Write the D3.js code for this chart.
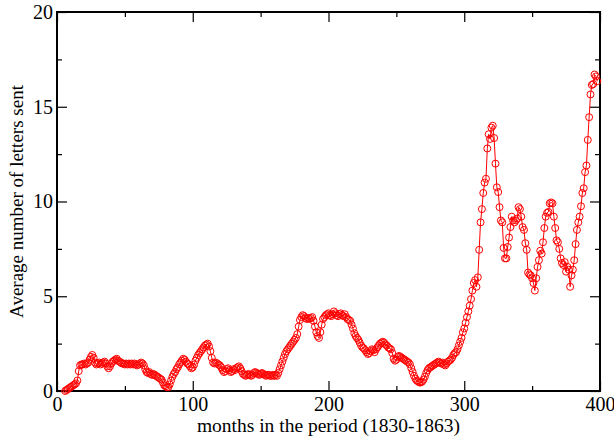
<!DOCTYPE html>
<html>
<head>
<meta charset="utf-8">
<script src="https://cdn.jsdelivr.net/npm/d3@7"></script>
<style>
  body { margin: 0; background: #fff; }
  svg { display: block; }
  text { font-family: "Liberation Serif", "Times New Roman", serif; fill: #000; }
</style>
</head>
<body>
<div id="vis"></div>
<script>
// first month with data, one value per month after that
var firstMonth = 6;

var letters = [
  0.00, 0.05, 0.10, 0.15, 0.20, 0.25, 0.30, 0.35, 0.40, 0.55,
  1.05, 1.35, 1.40, 1.40, 1.45, 1.40, 1.45, 1.50, 1.65, 1.80,
  1.90, 1.75, 1.50, 1.40, 1.45, 1.50, 1.40, 1.45, 1.50, 1.55,
  1.45, 1.30, 1.20, 1.30, 1.45, 1.55, 1.60, 1.65, 1.70, 1.60,
  1.55, 1.50, 1.45, 1.45, 1.40, 1.45, 1.40, 1.45, 1.40, 1.45,
  1.40, 1.45, 1.40, 1.35, 1.40, 1.45, 1.50, 1.45, 1.35, 1.15,
  1.00, 0.95, 1.00, 0.90, 0.85, 0.90, 0.85, 0.80, 0.75, 0.70,
  0.65, 0.60, 0.45, 0.30, 0.25, 0.20, 0.20, 0.35, 0.55, 0.75,
  0.90, 1.00, 1.15, 1.25, 1.40, 1.50, 1.60, 1.70, 1.65, 1.55,
  1.45, 1.40, 1.30, 1.20, 1.25, 1.40, 1.60, 1.75, 1.90, 2.00,
  2.10, 2.20, 2.30, 2.40, 2.45, 2.50, 2.35, 2.10, 1.75, 1.50,
  1.45, 1.50, 1.45, 1.40, 1.35, 1.25, 1.10, 1.00, 1.05, 1.15,
  1.20, 1.10, 1.00, 1.05, 1.15, 1.10, 1.20, 1.25, 1.30, 1.20,
  1.05, 0.90, 0.85, 0.80, 0.85, 0.90, 0.85, 0.80, 0.85, 0.95,
  1.00, 0.95, 0.90, 0.85, 0.90, 0.95, 0.90, 0.85, 0.80, 0.85,
  0.85, 0.80, 0.80, 0.85, 0.80, 0.85, 0.80, 0.95, 1.15, 1.35,
  1.55, 1.75, 1.95, 2.10, 2.20, 2.30, 2.40, 2.50, 2.60, 2.70,
  2.80, 3.00, 3.40, 3.75, 3.90, 4.00, 3.95, 3.85, 3.80, 3.85,
  3.80, 3.85, 3.90, 3.70, 3.40, 3.10, 2.90, 2.80, 3.10, 3.50,
  3.80, 3.90, 4.00, 4.05, 4.10, 4.00, 3.95, 4.05, 4.20, 4.10,
  4.00, 3.95, 4.05, 4.10, 4.00, 3.95, 4.05, 3.90, 3.80, 3.75,
  3.70, 3.50, 3.30, 3.05, 2.90, 2.80, 2.70, 2.55, 2.40, 2.30,
  2.25, 2.15, 2.05, 1.95, 2.00, 2.10, 2.20, 2.15, 2.05, 2.20,
  2.30, 2.40, 2.50, 2.55, 2.60, 2.55, 2.45, 2.40, 2.30, 2.25,
  2.20, 2.00, 1.70, 1.60, 1.65, 1.80, 1.85, 1.80, 1.75, 1.70,
  1.65, 1.60, 1.55, 1.50, 1.40, 1.20, 1.00, 0.80, 0.65, 0.55,
  0.50, 0.45, 0.45, 0.50, 0.60, 0.75, 0.95, 1.10, 1.20, 1.25,
  1.30, 1.35, 1.40, 1.45, 1.50, 1.55, 1.50, 1.45, 1.50, 1.40,
  1.35, 1.45, 1.55, 1.60, 1.65, 1.75, 1.90, 2.00, 2.05, 2.20,
  2.40, 2.60, 2.80, 3.10, 3.30, 3.60, 3.90, 4.20, 4.50, 4.85,
  5.30, 5.70, 5.85, 5.50, 6.00, 7.45, 8.90, 9.60, 10.45, 11.00,
  11.20, 12.80, 13.55, 13.30, 13.90, 14.00, 13.35, 12.00, 10.75, 10.50,
  9.70, 9.00, 8.90, 7.55, 7.00, 7.00, 7.60, 8.10, 8.65, 9.20,
  9.00, 8.90, 9.00, 9.10, 9.70, 9.60, 9.20, 8.65, 8.50, 7.80,
  7.45, 6.25, 6.15, 6.10, 5.95, 5.70, 5.30, 5.95, 6.55, 6.90,
  7.40, 7.25, 7.85, 8.60, 9.20, 9.40, 9.45, 9.90, 9.95, 9.90,
  9.20, 8.60, 7.95, 7.85, 7.50, 7.00, 6.75, 6.65, 6.80, 6.30,
  6.55, 6.40, 5.50, 6.10, 6.40, 6.90, 7.75, 8.50, 8.90, 9.20,
  9.75, 10.45, 10.70, 11.55, 11.90, 13.25, 14.45, 15.65, 16.15, 16.20,
  16.70, 16.60, 16.35
];

var xTicks = [0, 100, 200, 300, 400];
var xMinor = [50, 150, 250, 350];
var yTicks = [0, 5, 10, 15, 20];
var yMinor = [2.5, 7.5, 12.5, 17.5];

var width = 614,
    height = 438;

var plotL = 57, plotR = 600, plotT = 12, plotB = 391;

var svg = d3.select("#vis").append("svg")
    .attr("width", width)
    .attr("height", height);

var x = d3.scaleLinear().domain([0, 400]).range([plotL, plotR]);
var y = d3.scaleLinear().domain([0, 20]).range([plotB, plotT]);

var data = letters.map(function(v, i) { return {m: firstMonth + i, v: v}; });

// ticks on all four sides, pointing inward
function ticks(axis, scale, values, size, labels) {
  return axis(scale)
    .tickValues(values)
    .tickSizeInner(-size)
    .tickSizeOuter(0)
    .tickPadding(labels ? 6 : 0)
    .tickFormat(labels ? d3.format("d") : "");
}

var gx = svg.append("g").attr("transform", "translate(0," + plotB + ")");
gx.call(ticks(d3.axisBottom, x, xMinor, 5, false));
gx.append("g").attr("class", "lab").call(ticks(d3.axisBottom, x, xTicks, 10, true));

var gy = svg.append("g").attr("transform", "translate(" + plotL + ",0)");
gy.call(ticks(d3.axisLeft, y, yMinor, 5, false));
gy.append("g").attr("class", "lab").call(ticks(d3.axisLeft, y, yTicks, 10, true));

var gt = svg.append("g").attr("transform", "translate(0," + plotT + ")");
gt.call(ticks(d3.axisTop, x, xMinor, 5, false));
gt.append("g").call(ticks(d3.axisTop, x, xTicks, 10, false));

var gr = svg.append("g").attr("transform", "translate(" + plotR + ",0)");
gr.call(ticks(d3.axisRight, y, yMinor, 5, false));
gr.append("g").call(ticks(d3.axisRight, y, yTicks, 10, false));

svg.selectAll(".domain").remove();
svg.selectAll(".tick line").attr("stroke", "#000").attr("stroke-width", 1.2);
svg.selectAll(".tick text")
    .style("font-family", "'Liberation Serif', serif")
    .style("font-size", "20px")
    .attr("fill", "#000");
gy.selectAll(".lab .tick text").attr("x", -4);
gx.selectAll(".lab .tick text").attr("y", 6);

// frame
svg.append("rect")
    .attr("x", plotL)
    .attr("y", plotT)
    .attr("width", plotR - plotL)
    .attr("height", plotB - plotT)
    .attr("fill", "none")
    .attr("stroke", "#000")
    .attr("stroke-width", 2);

var line = d3.line()
    .x(function(d) { return x(d.m); })
    .y(function(d) { return y(d.v); });

svg.append("path")
    .datum(data)
    .attr("d", line)
    .attr("fill", "none")
    .attr("stroke", "#ff0000")
    .attr("stroke-width", 1);

svg.append("g")
    .selectAll("circle")
    .data(data)
    .enter().append("circle")
      .attr("cx", function(d) { return x(d.m); })
      .attr("cy", function(d) { return y(d.v); })
      .attr("r", 3.5)
      .attr("fill", "none")
      .attr("stroke", "#ff0000")
      .attr("stroke-width", 1);

svg.append("text")
    .attr("x", (plotL + plotR) / 2)
    .attr("y", 432)
    .attr("text-anchor", "middle")
    .style("font-size", "19.5px")
    .text("months in the period (1830-1863)");

svg.append("text")
    .attr("transform", "translate(23," + ((plotT + plotB) / 2) + ") rotate(-90)")
    .attr("text-anchor", "middle")
    .style("font-size", "19px")
    .text("Average number of letters sent");
</script>
</body>
</html>
